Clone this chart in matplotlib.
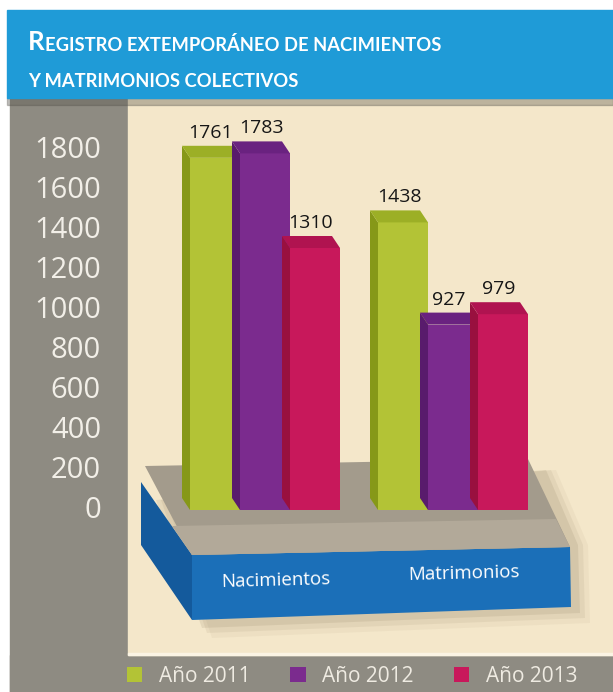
import matplotlib
matplotlib.use("Agg")
import matplotlib.pyplot as plt
from matplotlib.patches import Rectangle, Polygon

# data
groups = ["Nacimientos", "Matrimonios"]
years = ["Año 2011", "Año 2012", "Año 2013"]
values = [[1761, 1438],   # 2011
          [1783, 927],    # 2012
          [1310, 979]]    # 2013
yticks = [0, 200, 400, 600, 800, 1000, 1200, 1400, 1600, 1800]

front = ["#b3c336", "#7b2b8e", "#c8185b"]
side = ["#869818", "#591b6c", "#99103f"]
cap = ["#9caf26", "#6a2280", "#b01350"]

W, H = 613, 692
fig = plt.figure(figsize=(W / 100, H / 100), dpi=100)
fig.patch.set_facecolor("white")

# background / decoration axes in pixel units
bg = fig.add_axes([0, 0, 1, 1])
bg.set_xlim(0, W)
bg.set_ylim(H, 0)
bg.axis("off")

grey = "#8e8b82"
bg.add_patch(Rectangle((10, 98), 118, 594, color=grey))
bg.add_patch(Rectangle((10, 655), 603, 37, color=grey))
bg.add_patch(Rectangle((128, 98), 485, 557, color="#f4e7ca"))
bg.add_patch(Rectangle((128, 653), 485, 2, color="#fbf4e4"))
bg.add_patch(Rectangle((7, 98), 606, 7, color="#55524a", alpha=0.35))
bg.add_patch(Rectangle((7, 10), 606, 88, color="#1f9bd7"))

# platform shadow
for k, a in [(16, 0.05), (11, 0.08), (6, 0.11)]:
    bg.add_patch(Polygon([(150 + k, 500), (540 + k, 470), (572 + k, 545),
                          (574 + k, 607 + k), (196 + k, 622 + k)],
                         closed=True, color="#6b5a3a", alpha=a, lw=0))
# platform
bg.add_patch(Polygon([(141, 482), (192, 555), (192, 620), (141, 545)], closed=True, color="#145a9c", lw=0))
bg.add_patch(Polygon([(192, 555), (570, 547), (571, 607), (192, 620)], closed=True, color="#1b6fb8", lw=0))
bg.add_patch(Polygon([(145, 466), (528, 459), (570, 547), (192, 555)], closed=True, color="#a39b8c", lw=0))
bg.add_patch(Polygon([(172, 526), (556, 519), (570, 547), (192, 555)], closed=True, color="#b2a999", lw=0))

# title (small caps)
tfont = dict(family="Lato", weight="bold", color="white")
r = bg.text(28, 50, "R", fontsize=18.5, va="baseline", **tfont)
bg.annotate("EGISTRO EXTEMPORÁNEO DE NACIMIENTOS", xy=(1, 0), xycoords=r,
            va="bottom", fontsize=13.2, **tfont)
bg.text(28, 87, "Y MATRIMONIOS COLECTIVOS", fontsize=13.2, va="baseline", **tfont)

# data axes: group centres at 265 and 453 px, value 0 at 510 px, 0.2 px per unit
ax = fig.add_axes([0, 0, 1, 1], zorder=2)
ax.patch.set_alpha(0)
ax.axis("off")
ax.set_xlim(-265 / 188, (W - 265) / 188)
ax.set_ylim(-910, 2550)

bw = 50 / 188
d = 8 / 188      # side depth
h = 12 * 5       # cap height in data units

bars = []
for i, yr in enumerate(years):
    xs = [g + (i - 1) * bw for g in range(len(groups))]
    b = ax.bar(xs, values[i], width=bw, color=front[i], label=yr, zorder=3 + i)
    bars.append(b)
    for x, v in zip(xs, values[i]):
        x0, x1 = x - bw / 2, x + bw / 2
        ax.add_patch(Polygon([(x0 - d, h), (x0, 0), (x0, v), (x0 - d, v + h)],
                             closed=True, color=side[i], lw=0, zorder=3 + i))
        ax.add_patch(Polygon([(x0, v), (x1, v), (x1 - d, v + h), (x0 - d, v + h)],
                             closed=True, color=cap[i], lw=0, zorder=3 + i))
        ax.text(x - d / 2, v + h + 20, str(v), ha="center", va="bottom",
                fontsize=14, family="Open Sans", color="#161616", zorder=10)

for t in yticks:
    ax.text((101 - 265) / 188, t, str(t), ha="right", va="center",
            fontsize=21, family="Open Sans", color="#f2efe8")

for g, name in enumerate(groups):
    ax.text(g + 0.055, -355 + 35 * g, name, ha="center", va="center", rotation=1.5,
            fontsize=13.5, family="Open Sans", color="white")

leg = ax.legend(handles=bars, labels=years, loc="center", ncol=3,
                bbox_to_anchor=(352 / W, 16 / H), bbox_transform=fig.transFigure,
                frameon=False, handlelength=0.75, handleheight=0.75,
                handletextpad=0.8, columnspacing=1.9,
                prop={"family": "Open Sans", "size": 15}, labelcolor="#efebe2")

fig.savefig("out.png", dpi=100)
